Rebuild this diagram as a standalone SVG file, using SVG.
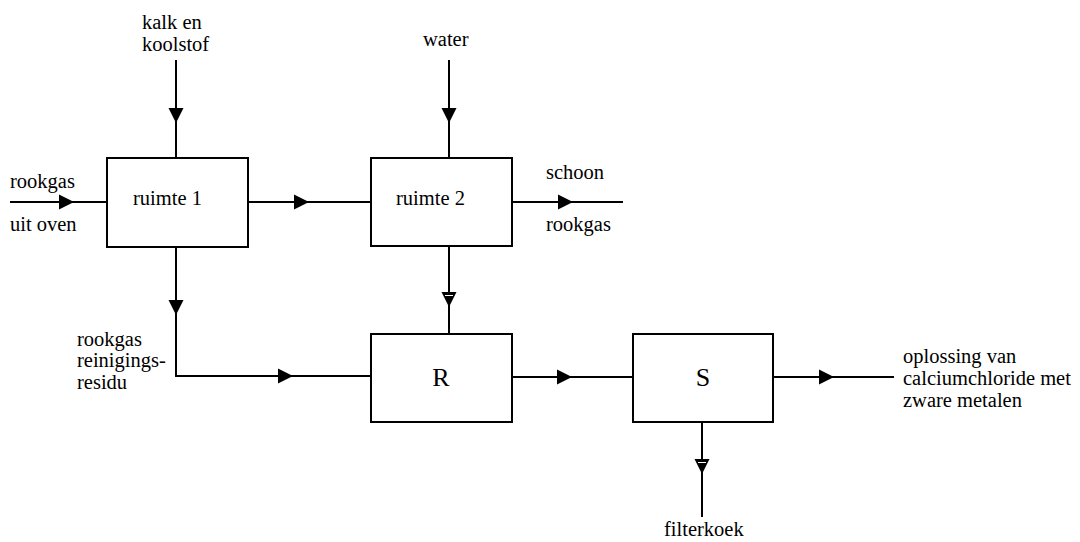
<svg xmlns="http://www.w3.org/2000/svg" width="1080" height="542" viewBox="0 0 1080 542">
<style>
.box{fill:#fff;stroke:#000;stroke-width:2}
.ln{fill:none;stroke:#000;stroke-width:2}
text{font-family:'Liberation Serif','DejaVu Serif',serif;font-size:20.5px;fill:#000}
.big{font-size:26px}
</style>
<defs>
<path id="ah" d="M0,0 L-15,-7.5 L-15,7.5 Z" fill="#000"/>
</defs>
<rect width="1080" height="542" fill="#fff"/>
<g id="connectors">
<path class="ln" d="M10,202 H107"/>
<path class="ln" d="M176,60 V158"/>
<path class="ln" d="M449,60 V158"/>
<path class="ln" d="M248,202 H371"/>
<path class="ln" d="M512,202 H623"/>
<path class="ln" d="M176,247 V376 H371"/>
<path class="ln" d="M449,246 V334"/>
<path class="ln" d="M512,377 H633"/>
<path class="ln" d="M773,377 H894"/>
<path class="ln" d="M702,422 V517"/>
<use href="#ah" transform="translate(74,202)"/>
<use href="#ah" transform="translate(176,123) rotate(90)"/>
<use href="#ah" transform="translate(449,123) rotate(90)"/>
<use href="#ah" transform="translate(309,202)"/>
<use href="#ah" transform="translate(573,202)"/>
<use href="#ah" transform="translate(176,315) rotate(90)"/>
<use href="#ah" transform="translate(293,376)"/>
<use href="#ah" transform="translate(449,307) rotate(90)"/>
<path d="M445,295.5 H453" stroke="#fff" stroke-width="1"/>
<use href="#ah" transform="translate(572,377)"/>
<use href="#ah" transform="translate(834,377)"/>
<use href="#ah" transform="translate(702,474) rotate(90)"/>
<path d="M698,462.5 H706" stroke="#fff" stroke-width="1"/>
</g>
<g id="ruimte1">
<rect class="box" x="107" y="158" width="141" height="89"/>
<text x="133" y="205">ruimte 1</text>
</g>
<g id="ruimte2">
<rect class="box" x="371" y="158" width="141" height="88"/>
<text x="396" y="205">ruimte 2</text>
</g>
<g id="R">
<rect class="box" x="371" y="334" width="141" height="88"/>
<text class="big" x="441" y="386" text-anchor="middle">R</text>
</g>
<g id="S">
<rect class="box" x="633" y="334" width="140" height="88"/>
<text class="big" x="703" y="386" text-anchor="middle">S</text>
</g>
<g id="labels">
<text x="142" y="29">kalk en</text>
<text x="142" y="51">koolstof</text>
<text x="423" y="46">water</text>
<text x="10" y="188">rookgas</text>
<text x="10" y="231">uit oven</text>
<text x="546" y="179">schoon</text>
<text x="546" y="231">rookgas</text>
<text x="77" y="346">rookgas</text>
<text x="77" y="367">reinigings-</text>
<text x="77" y="389">residu</text>
<text x="903" y="363">oplossing van</text>
<text x="903" y="385">calciumchloride met</text>
<text x="903" y="407">zware metalen</text>
<text x="664" y="536">filterkoek</text>
</g>
</svg>
